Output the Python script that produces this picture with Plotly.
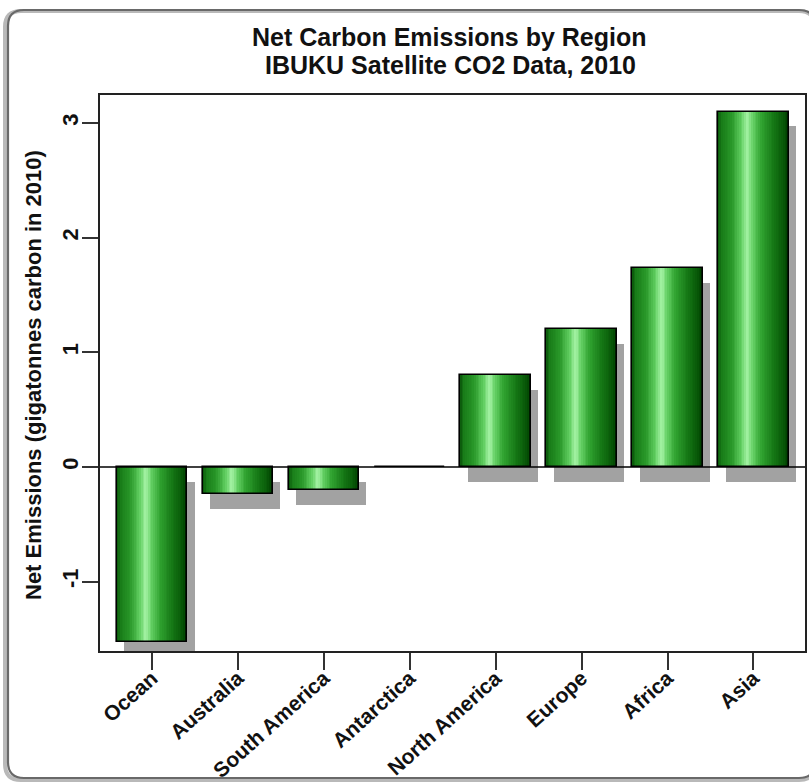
import plotly.graph_objects as go

# Net carbon emissions per region (gigatonnes carbon, 2010)
regions = ["Ocean", "Australia", "South America", "Antarctica",
           "North America", "Europe", "Africa", "Asia"]
emissions = [-1.53, -0.24, -0.20, 0.0, 0.80, 1.20, 1.735, 3.10]
y_ticks = [-1, 0, 1, 2, 3]

W, H = 809, 782
L, R, T, B = 100, 4, 95, 131
PW, PH = W - L - R, H - T - B

BAR_W = 0.82          # bar width in category units
N_SLICES = 40         # vertical strips used for the cylinder shading
SHADOW_DX = 0.085     # shadow shift to the right (category units)
SHADOW_DY = 0.13      # shadow shift downward (data units)

FONT = "Liberation Sans"

# horizontal colour profile of a shaded green cylinder
stops = [
    (0.00, (10, 85, 10)),
    (0.06, (25, 125, 25)),
    (0.20, (42, 152, 42)),
    (0.33, (95, 205, 95)),
    (0.42, (165, 243, 165)),
    (0.50, (100, 208, 100)),
    (0.62, (48, 162, 48)),
    (0.80, (20, 118, 20)),
    (0.93, (8, 88, 8)),
    (1.00, (0, 62, 0)),
]


def shade(t):
    for (t0, c0), (t1, c1) in zip(stops[:-1], stops[1:]):
        if t0 <= t <= t1:
            f = (t - t0) / (t1 - t0) if t1 > t0 else 0
            r, g, b = (round(a + (bb - a) * f) for a, bb in zip(c0, c1))
            return f"rgb({r},{g},{b})"
    return "rgb(0,62,0)"


fig = go.Figure()

# drop shadows behind the bars
fig.add_trace(go.Bar(
    x=regions, y=emissions,
    base=[-SHADOW_DY] * len(regions),
    width=BAR_W, offset=-BAR_W / 2 + SHADOW_DX,
    marker=dict(color="rgb(162,162,162)", line=dict(width=0)),
    hoverinfo="skip", showlegend=False,
))

# shaded bar bodies built from thin vertical strips
sw = BAR_W / N_SLICES
for k in range(N_SLICES):
    fig.add_trace(go.Bar(
        x=regions, y=emissions,
        width=sw * 1.1, offset=-BAR_W / 2 + k * sw,
        marker=dict(color=shade((k + 0.5) / N_SLICES), line=dict(width=0)),
        hoverinfo="skip", showlegend=False,
    ))

# black outline of each bar
fig.add_trace(go.Bar(
    x=regions, y=emissions,
    width=BAR_W, offset=-BAR_W / 2,
    marker=dict(color="rgba(0,0,0,0)", line=dict(color="black", width=1.6)),
    name="Net emissions", showlegend=False,
))

# horizontal reference line at zero
fig.add_shape(type="line", xref="paper", x0=0, x1=1, yref="y", y0=0, y1=0,
              line=dict(color="black", width=1.6), layer="above")


def px_x(p):
    return (p - L) / PW


def px_y(p):
    return (H - B - p) / PH


def rounded_rect(xa, ya, xb, yb, r):
    x0, x1, y0, y1 = px_x(xa), px_x(xb), px_y(ya), px_y(yb)
    rx, ry = r / PW, r / PH
    return (f"M {x0+rx},{y0} L {x1-rx},{y0} Q {x1},{y0} {x1},{y0-ry} "
            f"L {x1},{y1+ry} Q {x1},{y1} {x1-rx},{y1} L {x0+rx},{y1} "
            f"Q {x0},{y1} {x0},{y1+ry} L {x0},{y0-ry} Q {x0},{y0} {x0+rx},{y0} Z")


# rounded outer frame of the figure, with a soft edge shadow
fig.add_shape(type="path", xref="paper", yref="paper",
              path=rounded_rect(5, 11, 815, 780, 16),
              line=dict(color="rgb(185,185,185)", width=4), layer="below")
fig.add_shape(type="path", xref="paper", yref="paper",
              path=rounded_rect(8, 10, 815, 778, 16),
              line=dict(color="rgb(105,105,105)", width=2.2), layer="below")

title_font = dict(family=FONT, size=25, color="#111", weight="bold")
fig.add_annotation(text="Net Carbon Emissions by Region", xref="paper", yref="paper",
                   x=px_x(449), y=px_y(37), xanchor="center", yanchor="middle",
                   showarrow=False, font=title_font)
fig.add_annotation(text="IBUKU Satellite CO2 Data, 2010", xref="paper", yref="paper",
                   x=px_x(450), y=px_y(65), xanchor="center", yanchor="middle",
                   showarrow=False, font=title_font)
fig.add_annotation(text="Net Emissions (gigatonnes carbon in 2010)",
                   xref="paper", yref="paper", x=px_x(33), y=px_y(375),
                   xanchor="center", yanchor="middle",
                   textangle=-90, showarrow=False,
                   font=dict(family=FONT, size=22, color="#111", weight="bold"))

fig.update_layout(
    width=W, height=H,
    margin=dict(l=L, r=R, t=T, b=B),
    paper_bgcolor="white", plot_bgcolor="white",
    barmode="overlay", bargap=0,
    showlegend=False,
    font=dict(family=FONT, color="#111"),
)
fig.update_xaxes(
    type="category", range=[-0.605, 7.6],
    showline=True, mirror=True, linecolor="#222", linewidth=1.6,
    ticks="outside", ticklen=17, tickwidth=1.6, tickcolor="#333",
    tickangle=-42, ticklabelstandoff=-12,
    tickfont=dict(family=FONT, size=21, color="#111", weight="bold"),
    showgrid=False, zeroline=False, fixedrange=True, automargin=False,
)
fig.update_yaxes(
    range=[-1.605, 3.244], tickvals=y_ticks, ticktext=[str(v) for v in y_ticks],
    showline=True, mirror=True, linecolor="#222", linewidth=1.6,
    ticks="outside", ticklen=16, tickwidth=1.6, tickcolor="#333",
    tickangle=-90, ticklabelstandoff=-5,
    tickfont=dict(family=FONT, size=22, color="#111", weight="bold"),
    showgrid=False, zeroline=False, fixedrange=True, automargin=False,
)

fig.write_html("out.html")
